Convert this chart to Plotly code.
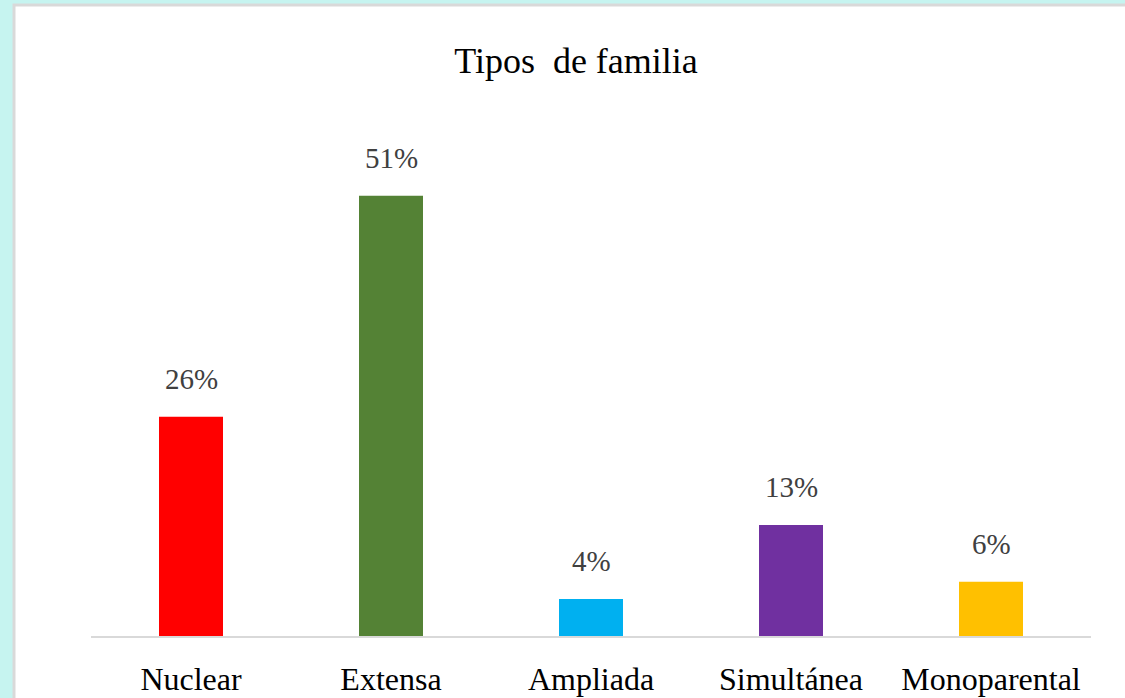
import plotly.graph_objects as go

categories = ["Nuclear", "Extensa", "Ampliada", "Simultánea", "Monoparental"]
values = [25.5, 51.2, 4.3, 12.9, 6.3]
labels = ["26%", "51%", "4%", "13%", "6%"]
colors = ["#FF0000", "#548235", "#00B0F0", "#7030A0", "#FFC000"]

W, H = 1125, 698
L, R, T, B = 91, 34, 110, 62
pw, ph = W - L - R, H - T - B

def px_x(px):
    return (px - L) / pw

def px_y(py):
    return (H - B - py) / ph

fig = go.Figure()
fig.add_trace(go.Bar(
    x=categories, y=values, marker=dict(color=colors, line=dict(width=0)),
    width=0.32, hoverinfo="skip", showlegend=False,
))

for c, v, t in zip(categories, values, labels):
    fig.add_annotation(x=c, y=v, text=t, showarrow=False, yanchor="bottom",
                       yshift=20, font=dict(family="Liberation Serif", size=29, color="#404040"))

fig.add_shape(type="rect", xref="paper", yref="paper",
              x0=px_x(14), x1=px_x(1135), y0=px_y(710), y1=px_y(5),
              fillcolor="white", line=dict(color="#D9D9D9", width=3), layer="below")

fig.update_layout(
    width=W, height=H,
    margin=dict(l=L, r=R, t=T, b=B, autoexpand=False),
    paper_bgcolor="#C6F4F0",
    plot_bgcolor="rgba(0,0,0,0)",
    title=dict(text="Tipos\u00a0 de familia", x=px_x(576), xref="paper", xanchor="center",
               y=1 - 60 / H, yref="container", yanchor="middle",
               font=dict(family="Liberation Serif", size=36, color="#000000")),
    xaxis=dict(showline=True, linecolor="#D9D9D9", linewidth=2, ticks="", showgrid=False,
               automargin=False,
               tickfont=dict(family="Liberation Serif", size=32, color="#000000"),
               ticklabelstandoff=14, range=[-0.5, 4.5]),
    yaxis=dict(visible=False, range=[0, ph / 8.6], showgrid=False, zeroline=False,
               automargin=False),
    bargap=0.68,
)

fig.write_html(
    "out.html",
    config={"displayModeBar": False},
    post_script="document.body.style.margin='0';document.body.style.overflow='hidden';"
                "document.body.style.background='#C6F4F0';",
)
